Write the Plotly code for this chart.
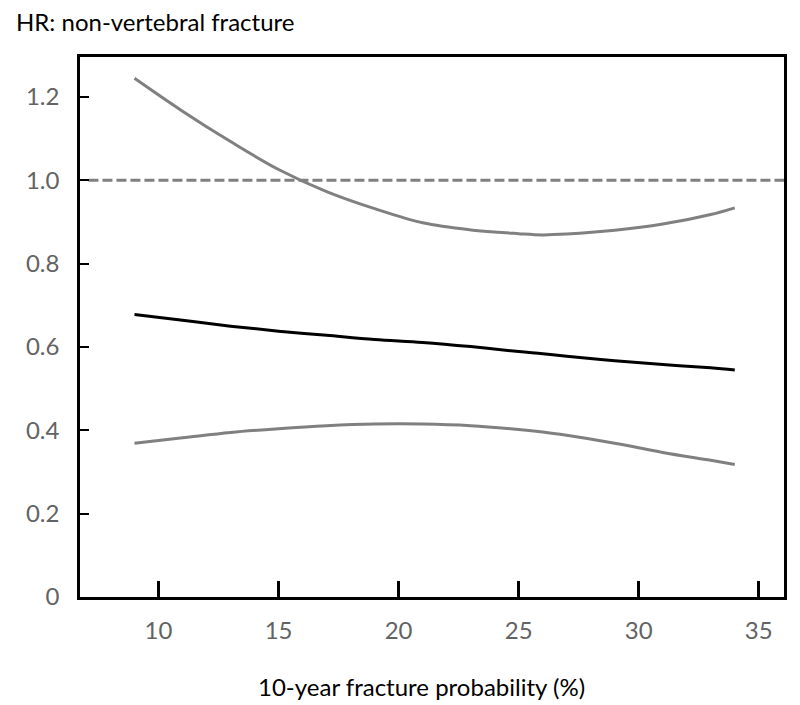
import plotly.graph_objects as go

x_vals = [9, 11, 13, 15, 17, 19, 21, 23, 25, 26, 27, 29, 31, 33, 34]
upper_ci = [1.245, 1.166, 1.093, 1.026, 0.973, 0.932, 0.898, 0.881, 0.872, 0.869, 0.871, 0.880, 0.895, 0.918, 0.934]
hr = [0.678, 0.664, 0.650, 0.638, 0.628, 0.618, 0.611, 0.601, 0.589, 0.584, 0.578, 0.567, 0.558, 0.550, 0.545]
lower_ci = [0.369, 0.382, 0.395, 0.404, 0.411, 0.415, 0.415, 0.411, 0.402, 0.396, 0.388, 0.369, 0.347, 0.328, 0.318]

x_ticks = [10, 15, 20, 25, 30, 35]
y_ticks = [0, 0.2, 0.4, 0.6, 0.8, 1.0, 1.2]
y_ticktext = ["0", "0.2", "0.4", "0.6", "0.8", "1.0", "1.2"]
ref_line = 1.0

FONT = "Lato"
GREY = "#808080"
LABEL = "#636363"

fig = go.Figure()
fig.add_trace(go.Scatter(x=x_vals, y=upper_ci, mode="lines", line=dict(color=GREY, width=3, shape="spline"), showlegend=False))
fig.add_trace(go.Scatter(x=x_vals, y=hr, mode="lines", line=dict(color="black", width=3, shape="spline"), showlegend=False))
fig.add_trace(go.Scatter(x=x_vals, y=lower_ci, mode="lines", line=dict(color=GREY, width=3, shape="spline"), showlegend=False))

fig.add_shape(type="line", xref="paper", yref="y", x0=0.012, x1=1, y0=ref_line, y1=ref_line,
              line=dict(color=GREY, width=3, dash="10px,4px"), layer="below")

fig.update_layout(
    width=800, height=705,
    margin=dict(l=80, r=16, t=57, b=108),
    paper_bgcolor="white", plot_bgcolor="white",
    font=dict(family=FONT, size=22, color=LABEL),
    xaxis=dict(range=[6.73, 36.05], tickvals=x_ticks, ticks="inside", ticklen=16, tickwidth=3,
               tickcolor="black", showline=True, linecolor="black", linewidth=2.5, mirror=True,
               showgrid=False, zeroline=False, ticklabelstandoff=10,
               tickfont=dict(family=FONT, size=24, color=LABEL)),
    yaxis=dict(range=[0, 1.296], tickvals=y_ticks, ticktext=y_ticktext, ticks="inside", ticklen=9,
               tickwidth=2, tickcolor="black", showline=True, linecolor="black", linewidth=2.5,
               mirror=True, showgrid=False, zeroline=False, ticklabelstandoff=13,
               tickfont=dict(family=FONT, size=24, color=LABEL)),
    annotations=[
        dict(text="HR: non-vertebral fracture", xref="paper", yref="paper",
             x=-66/704, y=1 + 35/540, xanchor="left", yanchor="middle", showarrow=False,
             font=dict(family=FONT, size=24, color="black")),
        dict(text="10-year fracture probability (%)", xref="paper", yref="paper",
             x=(421-80)/704, y=-(686-597)/540, xanchor="center", yanchor="middle", showarrow=False,
             font=dict(family=FONT, size=24, color="black")),
    ],
)

fig.write_html("out.html", config={"displayModeBar": False},
               post_script="document.body.style.margin='0';")
